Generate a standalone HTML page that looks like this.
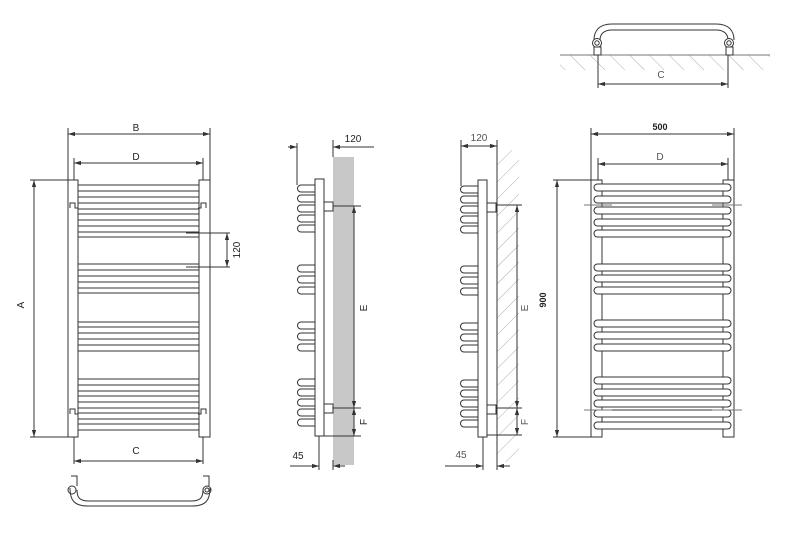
<!DOCTYPE html>
<html><head><style>html,body{margin:0;padding:0;background:#fff}svg{display:block}</style></head><body>
<svg width="796" height="534" viewBox="0 0 796 534" xmlns="http://www.w3.org/2000/svg" font-family="Liberation Sans, sans-serif" font-size="10" fill="none" stroke="#333" stroke-width="1">
<defs>
<marker id="a" viewBox="0 0 10 10" refX="10" refY="5" markerWidth="7" markerHeight="7" orient="auto-start-reverse"><path d="M0,2 L10,5 L0,8z" fill="#333" stroke="none"/></marker>
<pattern id="h" width="12" height="12" patternUnits="userSpaceOnUse" patternTransform="rotate(45)"><line x1="0" y1="0" x2="0" y2="12" stroke="#999" stroke-width="0.8"/></pattern>
<pattern id="h2" width="14" height="14" patternUnits="userSpaceOnUse" patternTransform="rotate(-45)"><line x1="0" y1="0" x2="0" y2="14" stroke="#999" stroke-width="0.8"/></pattern>
</defs>

<!-- VIEW 1 -->
<g>
<rect x="68" y="180" width="10" height="257"/>
<rect x="199" y="180" width="11" height="257"/>
<g stroke-width="0.9">
<path d="M78 185H199M78 191H199M78 197H199M78 203H199M78 209H199M78 214H199M78 220H199M78 226H199M78 232H199M78 237H199"/>
<path d="M78 264H199M78 270H199M78 276H199M78 282H199M78 288H199M78 293H199"/>
<path d="M78 322H199M78 327H199M78 333H199M78 339H199M78 345H199M78 351H199"/>
<path d="M78 379H199M78 385H199M78 391H199M78 396H199M78 402H199M78 408H199M78 413H199M78 419H199M78 424H199M78 430H199"/>
</g>
<path d="M70 208v-5h5v5h3M206 208v-5h-5v5h-3"/>
<path d="M70 414v-5h5v5h3M206 414v-5h-5v5h-3"/>
<path d="M68 128V180M210 128V180M74 158V180M203 158V180"/>
<line x1="68" y1="134" x2="210" y2="134" marker-start="url(#a)" marker-end="url(#a)"/>
<line x1="74" y1="163" x2="203" y2="163" marker-start="url(#a)" marker-end="url(#a)"/>
<text x="136" y="131" fill="#222" stroke="none" text-anchor="middle">B</text>
<text x="136" y="160" fill="#222" stroke="none" text-anchor="middle">D</text>
<path d="M30 180H68M30 437H68"/>
<line x1="34" y1="180" x2="34" y2="437" marker-start="url(#a)" marker-end="url(#a)"/>
<text x="24" y="305" fill="#222" stroke="none" text-anchor="middle" transform="rotate(-90 24 305)">A</text>
<path d="M186 233H230M186 267H230"/>
<line x1="227" y1="233" x2="227" y2="267" marker-start="url(#a)" marker-end="url(#a)"/>
<text x="240" y="250" fill="#222" stroke="none" text-anchor="middle" transform="rotate(-90 240 250)">120</text>
<path d="M74 437V464M203 437V464"/>
<line x1="74" y1="461" x2="203" y2="461" marker-start="url(#a)" marker-end="url(#a)"/>
<text x="136" y="454" fill="#222" stroke="none" text-anchor="middle">C</text>
<path d="M71 476h6v10M203 476h6v10M70 488c0 12 4 18 18 18h104c14 0 18-6 18-18M77 490c0 8 3 11 12 11h102c9 0 12-3 12-11"/>
<circle cx="72" cy="490" r="4"/><circle cx="207" cy="490" r="4"/><circle cx="207" cy="490" r="2"/>
</g>

<!-- VIEW 2 -->
<g>
<rect x="333" y="157" width="21" height="308" fill="#c8c8c8" stroke="none"/>
<rect x="315" y="179" width="9" height="257" fill="#fff"/>
<rect x="324" y="202" width="9" height="9" fill="#fff"/>
<rect x="324" y="404" width="9" height="9" fill="#fff"/>
<g>
<path d="M315 185h-14a3.5 3.5 0 0 0 0 7h14M315 195h-14a3.5 3.5 0 0 0 0 7h14M315 205h-14a3.5 3.5 0 0 0 0 7h14M315 215h-14a3.5 3.5 0 0 0 0 7h14M315 225h-14a3.5 3.5 0 0 0 0 7h14"/>
<path d="M315 265h-14a3.5 3.5 0 0 0 0 7h14M315 276h-14a3.5 3.5 0 0 0 0 7h14M315 287h-14a3.5 3.5 0 0 0 0 7h14"/>
<path d="M315 322h-14a3.5 3.5 0 0 0 0 7h14M315 333h-14a3.5 3.5 0 0 0 0 7h14M315 344h-14a3.5 3.5 0 0 0 0 7h14"/>
<path d="M315 379h-14a3.5 3.5 0 0 0 0 7h14M315 389h-14a3.5 3.5 0 0 0 0 7h14M315 399h-14a3.5 3.5 0 0 0 0 7h14M315 409h-14a3.5 3.5 0 0 0 0 7h14M315 419h-14a3.5 3.5 0 0 0 0 7h14"/>
</g>
<path d="M297 143V185M333 140V157"/>
<line x1="288" y1="147" x2="297" y2="147" marker-end="url(#a)"/>
<line x1="348" y1="147" x2="333" y2="147" marker-end="url(#a)"/>
<line x1="333" y1="147" x2="374" y2="147"/>
<text x="353" y="142" fill="#222" stroke="none" text-anchor="middle">120</text>
<path d="M333 206H361M333 408H361M324 436H361"/>
<line x1="354" y1="206" x2="354" y2="408" marker-start="url(#a)" marker-end="url(#a)"/>
<line x1="354" y1="408" x2="354" y2="436" marker-start="url(#a)" marker-end="url(#a)"/>
<text x="367" y="308" fill="#222" stroke="none" text-anchor="middle" transform="rotate(-90 367 308)">E</text>
<text x="367" y="422" fill="#222" stroke="none" text-anchor="middle" transform="rotate(-90 367 422)">F</text>
<path d="M319 436V470M333 460V470"/>
<line x1="290" y1="466" x2="319" y2="466" marker-end="url(#a)"/>
<line x1="345" y1="466" x2="333" y2="466" marker-end="url(#a)"/>
<text x="298" y="459" fill="#222" stroke="none" text-anchor="middle">45</text>
</g>

<!-- VIEW 3 -->
<g>
<rect x="497" y="150" width="22" height="312" fill="url(#h)" stroke="none"/>
<line x1="497" y1="150" x2="497" y2="462"/>
<rect x="478" y="180" width="9" height="257" fill="#fff"/>
<rect x="487" y="203" width="9" height="9" fill="#fff"/>
<rect x="487" y="405" width="9" height="9" fill="#fff"/>
<g transform="translate(163,1)">
<path d="M315 185h-14a3.5 3.5 0 0 0 0 7h14M315 195h-14a3.5 3.5 0 0 0 0 7h14M315 205h-14a3.5 3.5 0 0 0 0 7h14M315 215h-14a3.5 3.5 0 0 0 0 7h14M315 225h-14a3.5 3.5 0 0 0 0 7h14"/>
<path d="M315 265h-14a3.5 3.5 0 0 0 0 7h14M315 276h-14a3.5 3.5 0 0 0 0 7h14M315 287h-14a3.5 3.5 0 0 0 0 7h14"/>
<path d="M315 322h-14a3.5 3.5 0 0 0 0 7h14M315 333h-14a3.5 3.5 0 0 0 0 7h14M315 344h-14a3.5 3.5 0 0 0 0 7h14"/>
<path d="M315 379h-14a3.5 3.5 0 0 0 0 7h14M315 389h-14a3.5 3.5 0 0 0 0 7h14M315 399h-14a3.5 3.5 0 0 0 0 7h14M315 409h-14a3.5 3.5 0 0 0 0 7h14M315 419h-14a3.5 3.5 0 0 0 0 7h14"/>
</g>
<path d="M461 140V186M497 140V150"/>
<line x1="461" y1="146" x2="497" y2="146" marker-start="url(#a)" marker-end="url(#a)"/>
<text x="479" y="141" fill="#555" stroke="none" text-anchor="middle">120</text>
<path d="M496 205H522M496 408H522M487 435H522"/>
<line x1="517" y1="205" x2="517" y2="408" marker-start="url(#a)" marker-end="url(#a)"/>
<line x1="517" y1="408" x2="517" y2="435" marker-start="url(#a)" marker-end="url(#a)"/>
<text x="528" y="308" fill="#555" stroke="none" text-anchor="middle" transform="rotate(-90 528 308)">E</text>
<text x="528" y="422" fill="#555" stroke="none" text-anchor="middle" transform="rotate(-90 528 422)">F</text>
<path d="M483 437V470M497 462V470"/>
<line x1="445" y1="466" x2="483" y2="466" marker-end="url(#a)"/>
<line x1="510" y1="466" x2="497" y2="466" marker-end="url(#a)"/>
<text x="461" y="458" fill="#555" stroke="none" text-anchor="middle">45</text>
</g>

<!-- VIEW 4 -->
<g>
<rect x="591" y="180" width="11" height="257"/>
<rect x="723" y="180" width="11" height="257"/>
<g fill="#fff">
<rect x="594" y="184" width="137" height="7" rx="3.5"/><rect x="594" y="196" width="137" height="7" rx="3.5"/><rect x="594" y="207" width="137" height="7" rx="3.5"/><rect x="594" y="219" width="137" height="7" rx="3.5"/><rect x="594" y="230" width="137" height="7" rx="3.5"/>
<rect x="594" y="264" width="137" height="7" rx="3.5"/><rect x="594" y="275" width="137" height="7" rx="3.5"/><rect x="594" y="287" width="137" height="7" rx="3.5"/>
<rect x="594" y="320" width="137" height="7" rx="3.5"/><rect x="594" y="332" width="137" height="7" rx="3.5"/><rect x="594" y="344" width="137" height="7" rx="3.5"/>
<rect x="594" y="377" width="137" height="7" rx="3.5"/><rect x="594" y="389" width="137" height="7" rx="3.5"/><rect x="594" y="400" width="137" height="7" rx="3.5"/><rect x="594" y="410" width="137" height="7" rx="3.5"/><rect x="594" y="422" width="137" height="7" rx="3.5"/>
</g>
<path d="M584 205H612M712 205H742M584 410H612M712 410H742" stroke="#777"/>
<path d="M591 128V180M734 128V180M598 158V180M728 158V180"/>
<line x1="591" y1="134" x2="734" y2="134" marker-start="url(#a)" marker-end="url(#a)"/>
<line x1="598" y1="164" x2="728" y2="164" marker-start="url(#a)" marker-end="url(#a)"/>
<text x="660" y="130" fill="#222" stroke="none" text-anchor="middle" font-weight="bold" font-size="9">500</text>
<text x="660" y="160" fill="#555" stroke="none" text-anchor="middle">D</text>
<path d="M553 180H591M553 437H591"/>
<line x1="557" y1="180" x2="557" y2="437" marker-start="url(#a)" marker-end="url(#a)"/>
<text x="546" y="300" fill="#222" stroke="none" text-anchor="middle" font-weight="bold" font-size="9" transform="rotate(-90 546 300)">900</text>
</g>

<!-- TOP RIGHT -->
<g>
<rect x="560" y="55" width="210" height="15" fill="url(#h2)" stroke="none"/>
<line x1="560" y1="55" x2="770" y2="55" stroke="#777"/>
<path d="M594 40c0-10 6-16 18-16h104c12 0 18 6 18 16M600 40c0-6 4-10 12-10h104c8 0 12 4 12 10"/>
<circle cx="597" cy="43" r="4.5" fill="#fff"/><circle cx="597" cy="43" r="2.2"/>
<circle cx="729" cy="43" r="4.5" fill="#fff"/><circle cx="729" cy="43" r="2.2"/>
<rect x="594" y="47" width="7" height="8" fill="#fff"/><rect x="726" y="47" width="7" height="8" fill="#fff"/>
<path d="M598 55V88M728 55V88"/>
<line x1="598" y1="84" x2="728" y2="84" marker-start="url(#a)" marker-end="url(#a)"/>
<text x="661" y="78" fill="#555" stroke="none" text-anchor="middle">C</text>
</g>
</svg>
</body></html>
